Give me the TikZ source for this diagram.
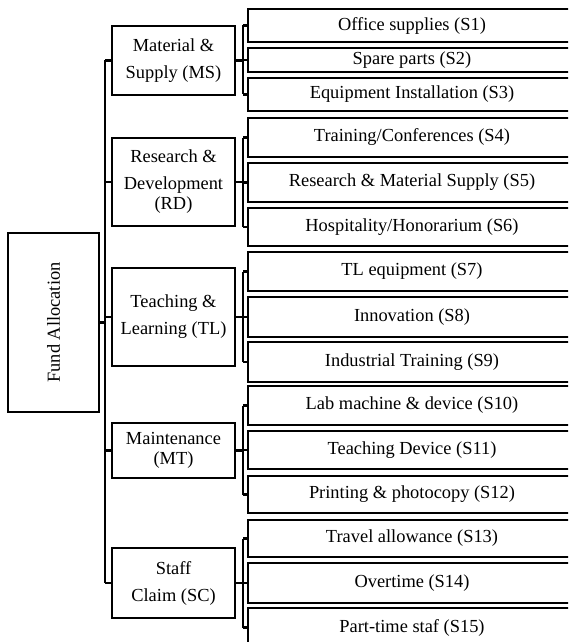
\documentclass[tikz,border=0pt]{standalone}
\usepackage{fontspec}
\setmainfont{Liberation Serif}
\usepackage{tikz}

\begin{document}
\begin{tikzpicture}[x=0.5pt,y=-0.5pt]
% Default look for each box
\tikzstyle{every node}=[draw, line width=1pt, inner sep=1pt, font=\fontsize{9.2}{13.5}\selectfont];
\tikzstyle{midbox} = [minimum width=61.5pt, align=center]
\tikzstyle{subbox} = [minimum width=164pt]
\tikzstyle{link} = [draw, line width=1.1pt]
\useasboundingbox (0,0) rectangle (568,642);
\clip (0,0) rectangle (568,642);
% Root box
\node [minimum width=45.5pt, minimum height=89.5pt] (fund) at (53.5,322.5)
{\rotatebox{90}{Fund Allocation}};
% Five category boxes
\node [midbox, minimum height=34.5pt] (ms) at (173.5,60.5) {Material \&\\Supply (MS)};
\node [midbox, minimum height=44pt] (rd) at (173.5,182) {Research \&\\Development\\[-3.5pt](RD)};
\node [midbox, minimum height=49pt] (tl) at (173.5,317) {Teaching \&\\Learning (TL)};
\node [midbox, minimum height=27.5pt] (mt) at (173.5,450.5) {Maintenance\\[-3.5pt](MT)};
\node [midbox, minimum height=35pt] (sc) at (173.5,583) {Staff\\Claim (SC)};
% Fifteen item boxes
\node [subbox, minimum height=16.5pt] (s1) at (412,25.5) {Office supplies (S1)};
\node [subbox, minimum height=12pt] (s2) at (412,60) {Spare parts (S2)};
\node [subbox, minimum height=16.5pt] (s3) at (412,94.5) {Equipment Installation (S3)};
\node [subbox, minimum height=19.5pt] (s4) at (412,137.5) {Training/Conferences (S4)};
\node [subbox, minimum height=19.5pt] (s5) at (412,182.5) {Research \& Material Supply (S5)};
\node [subbox, minimum height=19pt] (s6) at (412,227) {Hospitality/Honorarium (S6)};
\node [subbox, minimum height=19.5pt] (s7) at (412,271.5) {TL equipment (S7)};
\node [subbox, minimum height=20pt] (s8) at (412,317) {Innovation (S8)};
\node [subbox, minimum height=20pt] (s9) at (412,362) {Industrial Training (S9)};
\node [subbox, minimum height=19.5pt] (s10) at (412,405.5) {Lab machine \& device (S10)};
\node [subbox, minimum height=19pt] (s11) at (412,450) {Teaching Device (S11)};
\node [subbox, minimum height=18.5pt] (s12) at (412,494.5) {Printing \& photocopy (S12)};
\node [subbox, minimum height=18.5pt] (s13) at (412,538.5) {Travel allowance (S13)};
\node [subbox, minimum height=20pt] (s14) at (412,583) {Overtime (S14)};
\node [subbox, minimum height=19.5pt] (s15) at (412,627.5) {Part-time staf (S15)};
% Trunk and bracket lines
\coordinate (trunk) at (105,0);
\coordinate (brk) at (243,0);
\draw [link] (fund.east) -- (fund.east -| trunk);
\draw [link] (ms.west -| trunk) -- (sc.west -| trunk);
\foreach \m/\a/\b/\c in {ms/s1/s2/s3, rd/s4/s5/s6, tl/s7/s8/s9, mt/s10/s11/s12, sc/s13/s14/s15}
{
\draw [link] (\m.west -| trunk) -- (\m.west);
\draw [link] (\m.east) -- (\m.east -| brk);
\draw [link] (\a.west -| brk) -- (\c.west -| brk);
\draw [link] (\a.west -| brk) -- (\a.west);
\draw [link] (\b.west -| brk) -- (\b.west);
\draw [link] (\c.west -| brk) -- (\c.west);
}
\end{tikzpicture}
\end{document}
